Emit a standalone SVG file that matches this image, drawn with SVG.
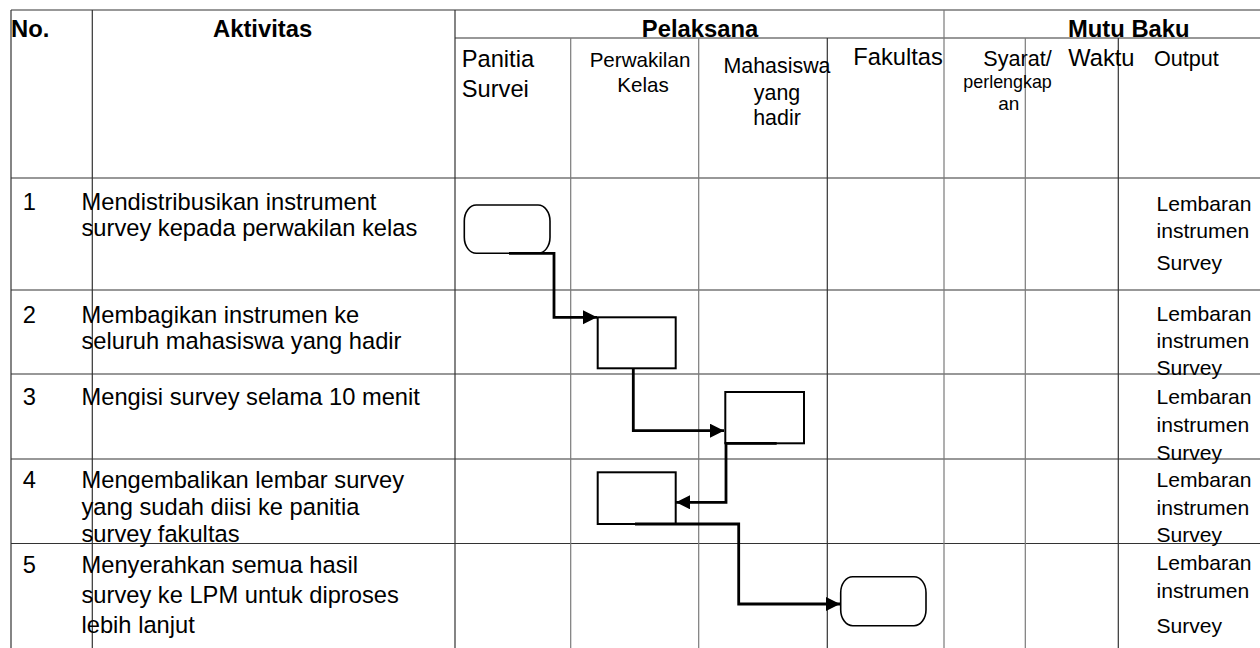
<svg xmlns="http://www.w3.org/2000/svg" width="1260" height="648" viewBox="0 0 1260 648">
<style>
.bg{fill:#ffffff}
.gd{stroke:#333333;stroke-width:1.2;fill:none}
.gg{stroke:#7a7a7a;stroke-width:1.2;fill:none}
.t{font-family:"Liberation Sans",Arial,sans-serif;fill:#000000}
.b{font-weight:bold;font-size:23.8px}
.r{font-size:23.7px}
.o{font-size:21.1px}
.shape{fill:#ffffff;stroke:#000000;stroke-width:2}
.term{fill:#ffffff;stroke:#000000;stroke-width:1.6}
.conn{fill:none;stroke:#000000;stroke-width:2.8;stroke-linejoin:miter}
</style>
<defs>
<marker id="arr" markerUnits="userSpaceOnUse" markerWidth="16" markerHeight="16" refX="14" refY="7" orient="auto">
<path d="M0,0 L14,7 L0,14 Z" fill="#000000"/>
</marker>
</defs>
<rect class="bg" x="0" y="0" width="1260" height="648"/>
<g id="grid">
<line class="gd" x1="11" y1="10" x2="1260" y2="10"/>
<line class="gd" x1="455" y1="38" x2="1260" y2="38"/>
<line class="gd" x1="11" y1="178" x2="1260" y2="178"/>
<line class="gd" x1="11" y1="290" x2="1260" y2="290"/>
<line class="gd" x1="11" y1="374" x2="1260" y2="374"/>
<line class="gd" x1="11" y1="459" x2="1260" y2="459"/>
<line class="gd" x1="11" y1="543.5" x2="1260" y2="543.5"/>
<line class="gd" x1="11" y1="10" x2="11" y2="648"/>
<line class="gd" x1="92.3" y1="10" x2="92.3" y2="648"/>
<line class="gd" x1="455" y1="10" x2="455" y2="648"/>
<line class="gg" x1="570.7" y1="38" x2="570.7" y2="648"/>
<line class="gg" x1="698.7" y1="38" x2="698.7" y2="648"/>
<line class="gd" x1="827.3" y1="38" x2="827.3" y2="648"/>
<line class="gg" x1="944" y1="10" x2="944" y2="648"/>
<line class="gg" x1="1025.3" y1="38" x2="1025.3" y2="648"/>
<line class="gd" x1="1118.3" y1="38" x2="1118.3" y2="648"/>
</g>
<g id="header">
<text class="t b" x="11" y="36.7">No.</text>
<text class="t b" x="213" y="36.7">Aktivitas</text>
<text class="t b" x="700" y="36.7" text-anchor="middle">Pelaksana</text>
<text class="t b" x="1068" y="36.7">Mutu Baku</text>
<text class="t r" x="461.7" y="66.7">Panitia</text>
<text class="t r" x="461.7" y="96.7">Survei</text>
<text class="t" font-size="20.6" x="640" y="66.7" text-anchor="middle">Perwakilan</text>
<text class="t" font-size="20.6" x="643" y="91.7" text-anchor="middle">Kelas</text>
<text class="t" font-size="21.4" x="777" y="73.3" text-anchor="middle">Mahasiswa</text>
<text class="t" font-size="21.4" x="777" y="100" text-anchor="middle">yang</text>
<text class="t" font-size="21.4" x="777" y="125" text-anchor="middle">hadir</text>
<text class="t r" x="853.3" y="65">Fakultas</text>
<text class="t" font-size="21.6" x="983.3" y="65.7">Syarat/</text>
<text class="t" font-size="17.9" x="963.3" y="88.3">perlengkap</text>
<text class="t" font-size="19" x="998.3" y="110">an</text>
<text class="t r" x="1068.3" y="65.7">Waktu</text>
<text class="t" font-size="21.6" x="1154" y="65.7">Output</text>
</g>
<g id="row1">
<text class="t r" x="22.7" y="209.5">1</text>
<text class="t r" x="81.5" y="209.5">Mendistribusikan instrument</text>
<text class="t r" x="81.5" y="235.8">survey kepada perwakilan kelas</text>
<text class="t o" x="1156.5" y="210.5">Lembaran</text>
<text class="t o" x="1156.5" y="237.5">instrumen</text>
<text class="t o" x="1156.5" y="269.5">Survey</text>
</g>
<g id="row2">
<text class="t r" x="22.7" y="322.7">2</text>
<text class="t r" x="81.5" y="322.7">Membagikan instrumen ke</text>
<text class="t r" x="81.5" y="349">seluruh mahasiswa yang hadir</text>
<text class="t o" x="1156.5" y="320.5">Lembaran</text>
<text class="t o" x="1156.5" y="348">instrumen</text>
<text class="t o" x="1156.5" y="375">Survey</text>
</g>
<g id="row3">
<text class="t r" x="22.7" y="405">3</text>
<text class="t r" x="81.5" y="405">Mengisi survey selama 10 menit</text>
<text class="t o" x="1156.5" y="403.5">Lembaran</text>
<text class="t o" x="1156.5" y="431.5">instrumen</text>
<text class="t o" x="1156.5" y="459.5">Survey</text>
</g>
<g id="row4">
<text class="t r" x="22.7" y="488.3">4</text>
<text class="t r" x="81.5" y="488.3">Mengembalikan lembar survey</text>
<text class="t r" x="81.5" y="515">yang sudah diisi ke panitia</text>
<text class="t r" x="81.5" y="541.5">survey fakultas</text>
<text class="t o" x="1156.5" y="487">Lembaran</text>
<text class="t o" x="1156.5" y="515">instrumen</text>
<text class="t o" x="1156.5" y="541.7">Survey</text>
</g>
<g id="row5">
<text class="t r" x="22.7" y="573">5</text>
<text class="t r" x="81.5" y="573">Menyerahkan semua hasil</text>
<text class="t r" x="81.5" y="602.5">survey ke LPM untuk diproses</text>
<text class="t r" x="81.5" y="633">lebih lanjut</text>
<text class="t o" x="1156.5" y="570">Lembaran</text>
<text class="t o" x="1156.5" y="598.3">instrumen</text>
<text class="t o" x="1156.5" y="632.7">Survey</text>
</g>
<g id="n1"><rect class="term" x="464.3" y="205" width="85.7" height="48.3" rx="12" ry="16"/></g>
<g id="n2"><rect class="shape" x="597.7" y="317.3" width="78" height="51"/></g>
<g id="n3"><rect class="shape" x="725.3" y="392" width="78.7" height="51.3"/></g>
<g id="n4"><rect class="shape" x="597.7" y="472.3" width="78" height="51.7"/></g>
<g id="n5"><rect class="term" x="840.7" y="576.7" width="85.3" height="49" rx="12" ry="16"/></g>
<g id="connectors">
<path class="conn" d="M509,253.3 H554 V317.3 H597" marker-end="url(#arr)"/>
<path class="conn" d="M633.3,368.3 V430.7 H724" marker-end="url(#arr)"/>
<path class="conn" d="M776.7,443.3 H726 V502.3 H676" marker-end="url(#arr)"/>
<path class="conn" d="M635,524 H738.7 V604 H840" marker-end="url(#arr)"/>
</g>
</svg>
